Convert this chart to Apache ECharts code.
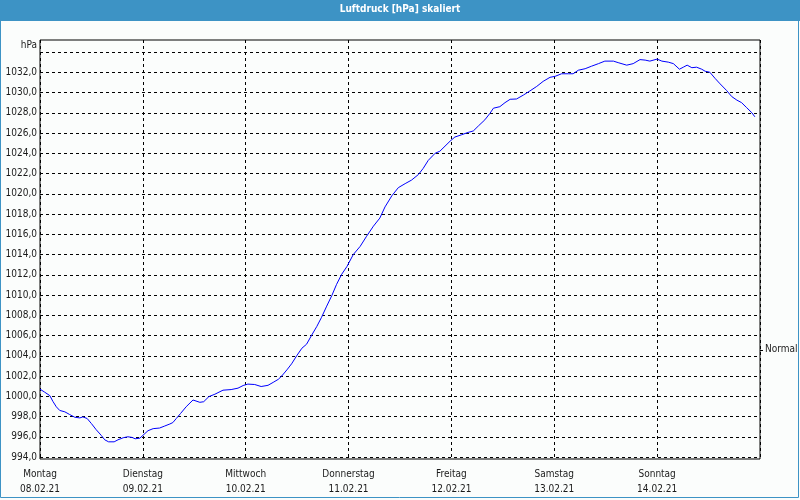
<!DOCTYPE html>
<html>
<head>
<meta charset="utf-8">
<script src="https://cdn.jsdelivr.net/npm/echarts@6/dist/echarts.min.js"></script>
<style>
html,body{margin:0;padding:0;background:#fbfdfc;}
#c{width:800px;height:500px;}
</style>
</head>
<body>
<div id="c"></div>
<script>
// hours since Monday 08.02.21 00:00
const hours = [0, 0.2, 1.1, 2.3, 3.0, 3.8, 4.6, 5.8, 6.9, 8.1, 9.3, 10.0, 11.0, 12.0, 13.1, 14.3, 15.1, 16.0, 17.3, 18.2, 19.4, 20.5, 21.5, 22.2, 23.3, 24.0,
  25.2, 26.4, 27.9, 29.1, 30.3, 31.0, 31.8, 32.8, 34.1, 35.7, 37.3, 38.2, 39.4, 40.8, 42.7, 44.6, 46.2, 47.4, 48.5, 50.1, 51.6, 53.2,
  54.4, 55.6, 56.4, 57.6, 58.7, 59.9, 61.1, 62.2, 63.4, 64.6, 65.7, 66.9, 68.1, 69.2, 70.4, 71.6, 73.1, 74.7, 76.2, 77.8, 79.3, 80.5,
  82.1, 83.6, 85.2, 86.7, 88.3, 89.4, 90.6, 92.2, 93.3, 94.5, 95.7, 96.8, 98.4, 99.9, 101.1, 102.3, 103.8, 105.0, 105.8, 107.3, 108.5,
  109.7, 111.2, 112.8, 114.3, 115.9, 117.4, 119.0, 120.2, 121.7, 123.3, 124.4, 125.6, 127.2, 128.7, 130.3, 131.8, 133.8, 134.9, 136.9,
  138.4, 140.0, 141.2, 142.3, 144.0, 145.1, 146.6, 147.8, 149.2, 150.1, 151.0, 152.1, 153.2, 154.4, 155.2, 156.3, 157.5, 158.7, 160.2,
  161.4, 162.6, 163.7, 164.9, 166.1, 166.8];
const pressure = [1000.7, 1000.6, 1000.4, 1000.06, 999.5, 998.96, 998.6, 998.46, 998.2, 997.93, 997.86, 997.96, 997.8, 997.3, 996.7, 996.13, 995.7, 995.5, 995.5, 995.7, 995.9, 996.0, 995.93, 995.8, 995.86, 996.13,
  996.6, 996.8, 996.86, 997.06, 997.26, 997.4, 997.8, 998.3, 998.96, 999.63, 999.4, 999.46, 999.96, 1000.2, 1000.6, 1000.66, 1000.8, 1001.06, 1001.2, 1001.16, 1000.96, 1001.08,
  1001.37, 1001.67, 1002.0, 1002.6, 1003.2, 1004.0, 1004.74, 1005.14, 1006.04, 1006.9, 1007.8, 1008.9, 1009.95, 1011.05, 1012.05, 1012.8, 1014.0, 1014.8, 1015.8, 1016.8, 1017.6, 1018.7,
  1019.8, 1020.6, 1021.0, 1021.35, 1021.9, 1022.5, 1023.3, 1024.0, 1024.2, 1024.7, 1025.2, 1025.6, 1025.83, 1026.06, 1026.2, 1026.7, 1027.3, 1027.95, 1028.45, 1028.6, 1029.0,
  1029.33, 1029.36, 1029.75, 1030.15, 1030.6, 1031.1, 1031.5, 1031.6, 1031.85, 1031.85, 1031.85, 1032.2, 1032.35, 1032.6, 1032.85, 1033.1, 1033.1, 1032.95, 1032.7,
  1032.85, 1033.25, 1033.2, 1033.1, 1033.3, 1033.1, 1033.0, 1032.85, 1032.3, 1032.5, 1032.7, 1032.45, 1032.5, 1032.3, 1032.1, 1032.0, 1031.4, 1030.85, 1030.2,
  1029.6, 1029.25, 1029.0, 1028.5, 1028.0, 1027.6];
const dayNames = ['Montag', 'Dienstag', 'Mittwoch', 'Donnerstag', 'Freitag', 'Samstag', 'Sonntag'];
const dayDates = ['08.02.21', '09.02.21', '10.02.21', '11.02.21', '12.02.21', '13.02.21', '14.02.21'];
const yMin = 994, yMax = 1034, yStep = 2;
const normalLevel = 1004.6;
const titleText = 'Luftdruck [hPa] skaliert';
const unitText = 'hPa';
const normalText = 'Normal';

const FONT = 'Tahoma, "DejaVu Sans Condensed", "Liberation Sans", sans-serif';
const chart = echarts.init(document.getElementById('c'), null, {renderer: 'canvas'});
const data = hours.map((h, i) => [h, pressure[i]]);

chart.setOption({
  animation: false,
  backgroundColor: '#fbfdfc',
  title: {
    text: titleText, left: 'center', top: 4, padding: 0,
    textStyle: {color: '#ffffff', fontSize: 10, fontWeight: 'bold', fontFamily: FONT}
  },
  grid: [
    {left: 40, right: 40, top: 52, bottom: 43, show: false},
    {left: 40, right: 40, top: 40, bottom: 41, show: true, borderColor: '#000', borderWidth: 1, backgroundColor: 'transparent'}
  ],
  xAxis: [
    {
      type: 'value', gridIndex: 0, min: 0, max: 168, interval: 24,
      axisLine: {show: false}, axisTick: {show: false}, splitLine: {show: false},
      axisLabel: {
        showMaxLabel: false, margin: 10, lineHeight: 15, color: '#1a1a1a', fontSize: 10, fontFamily: FONT,
        formatter: v => { const i = Math.round(v / 24); return i < dayNames.length ? dayNames[i] + '\n' + dayDates[i] : ''; }
      }
    },
    {
      type: 'value', gridIndex: 1, min: 0, max: 168, interval: 24,
      axisLine: {show: false}, axisTick: {show: false}, axisLabel: {show: false},
      splitLine: {show: true, lineStyle: {color: '#000', width: 1, type: [3, 3]}}
    }
  ],
  yAxis: [
    {
      type: 'value', gridIndex: 0, min: yMin, max: yMax, interval: yStep,
      name: unitText, nameLocation: 'end', nameGap: 7,
      nameTextStyle: {align: 'right', verticalAlign: 'middle', padding: [0, 3, 0, 0], color: '#1a1a1a', fontSize: 10, fontFamily: FONT},
      axisLine: {show: false}, axisTick: {show: false},
      axisLabel: {
        margin: 3, color: '#1a1a1a', fontSize: 10, fontFamily: FONT, showMaxLabel: false,
        formatter: v => v >= yMax ? '' : v.toFixed(1).replace('.', ',')
      },
      splitLine: {show: true, lineStyle: {color: '#000', width: 1, type: [3, 3]}}
    },
    {
      type: 'value', gridIndex: 1, show: false, min: 0, max: 1, splitLine: {show: false}
    }
  ],
  series: [{
    type: 'line', xAxisIndex: 0, yAxisIndex: 0, data: data, showSymbol: false, symbol: 'none',
    lineStyle: {color: '#0000ff', width: 1}, z: 5
  }]
});

const ny = chart.convertToPixel({yAxisIndex: 0}, normalLevel);
const rx = chart.convertToPixel({xAxisIndex: 0}, 168);
chart.setOption({
  graphic: [
    {type: 'rect', z: -10, silent: true, shape: {x: 0, y: 0, width: 800, height: 21}, style: {fill: '#3d93c5'}},
    {type: 'rect', z: 100, silent: true, shape: {x: 0.5, y: 0.5, width: 798, height: 497}, style: {fill: null, stroke: '#3d93c5', lineWidth: 1}},
    {type: 'line', z: 100, silent: true, shape: {x1: rx, y1: Math.round(ny) + 0.5, x2: rx + 3, y2: Math.round(ny) + 0.5}, style: {stroke: '#000', lineWidth: 1}},
    {type: 'text', z: 100, silent: true, x: rx + 5, y: ny, style: {text: normalText, fill: '#1a1a1a', font: '10px ' + FONT, textAlign: 'left', textVerticalAlign: 'middle'}}
  ]
});
</script>
</body>
</html>
